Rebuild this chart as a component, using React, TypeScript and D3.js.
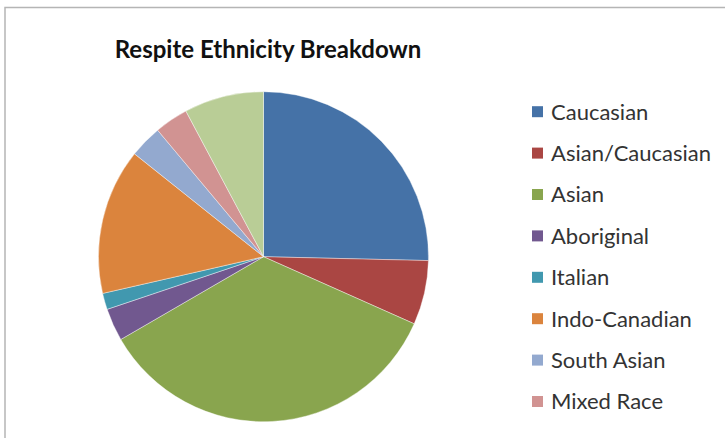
import React from "react";
import * as d3 from "d3";

const categories = ["Caucasian", "Asian/Caucasian", "Asian", "Aboriginal", "Italian", "Indo-Canadian", "South Asian", "Mixed Race", "Other"];
const values = [25.4, 6.3, 35.0, 3.2, 1.6, 14.3, 3.2, 3.3, 7.8];
const colors = ["#4572A7", "#AA4643", "#89A54E", "#71588F", "#4198AF", "#DB843D", "#93A9CF", "#D19392", "#B9CD96"];
const title = "Respite Ethnicity Breakdown";
const visibleLegendCount = 8;

export default function App() {
  const W = 725, H = 438;
  const cx = 263.5, cy = 256.7, r = 165;
  const pie = d3.pie<number>().sort(null).value((d) => d);
  const arcs = pie(values);
  const arc = d3.arc<d3.PieArcDatum<number>>().innerRadius(0).outerRadius(r);
  const legendY = d3.scaleLinear().domain([0, 1]).range([111.7, 153.1]);
  return (
    <svg width={W} height={H} style={{ position: "fixed", left: 0, top: 0 }}>
      <rect x={0} y={0} width={W} height={H} fill="#fff" />
      <rect x={5} y={7.5} width={W + 20} height={H + 20} fill="#fff" stroke="#b5b5b5" strokeWidth={1.5} />
      <text x={268} y={58} textAnchor="middle" fontFamily="Lato, sans-serif" fontWeight="bold" fontSize={24} fill="#111">{title}</text>
      <g transform={`translate(${cx},${cy})`}>
        {arcs.map((a, i) => (
          <path key={i} d={arc(a) || ""} fill={colors[i]} stroke="#fff" strokeOpacity={0.5} strokeWidth={0.8} />
        ))}
      </g>
      <g>
        {categories.slice(0, visibleLegendCount).map((c, i) => (
          <g key={c} transform={`translate(532,${legendY(i)})`}>
            <rect x={0} y={-5.5} width={11} height={11} fill={colors[i]} />
            <text x={19} y={0} dy="0.36em" fontFamily="Lato, sans-serif" fontSize={22} fill="#333">{c}</text>
          </g>
        ))}
      </g>
    </svg>
  );
}
